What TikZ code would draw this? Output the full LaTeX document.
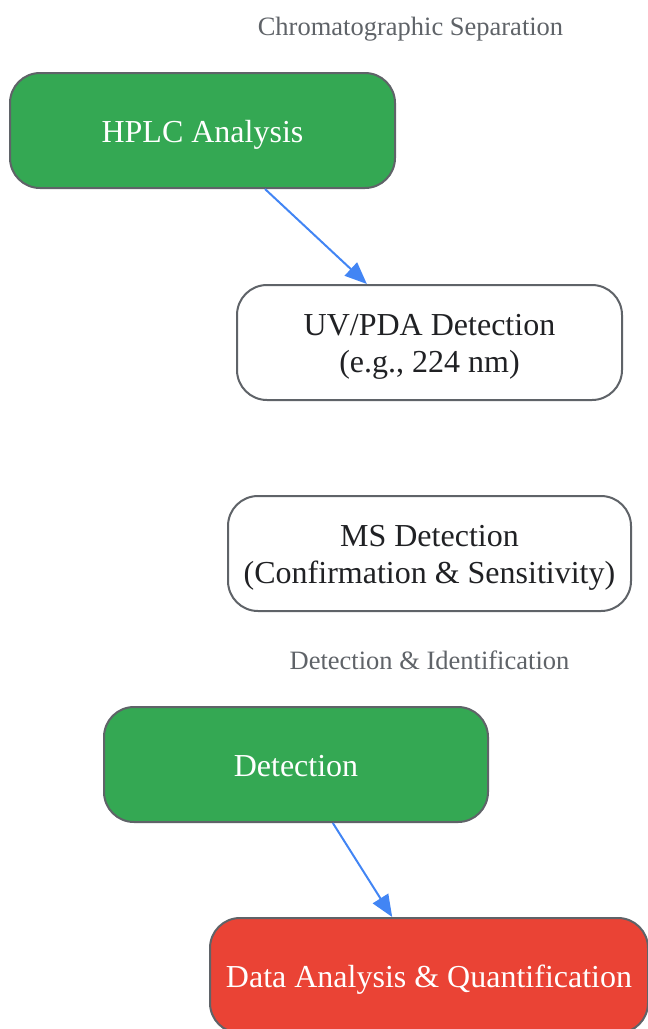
\documentclass[tikz,border=0pt]{standalone}
\usepackage{fontspec}
\setmainfont{Liberation Serif}
\usetikzlibrary{arrows.meta}
\definecolor{gstroke}{HTML}{5F6368}
\definecolor{ggreen}{HTML}{34A853}
\definecolor{gred}{HTML}{EA4335}
\definecolor{gblue}{HTML}{4285F4}
\definecolor{gtext}{HTML}{202124}
\newcommand{\topsp}[1]{\rule{0pt}{#1}}
\newcommand{\botsp}{\rule[-8pt]{0pt}{8pt}}
\tikzset{
  box/.style={draw=gstroke, line width=2pt, rounded corners=30pt,
    minimum height=115pt, inner sep=0pt, align=center,
    font=\fontsize{32}{37}\selectfont},
  greenbox/.style={box, fill=ggreen, text=white},
  whitebox/.style={box, fill=white, text=gtext},
  redbox/.style={box, fill=gred, text=white},
  grouplabel/.style={text=gstroke, font=\fontsize{26.5}{30}\selectfont, inner sep=0pt},
  flow/.style={draw=gblue, line width=2pt, -{Triangle[length=22pt,width=18pt]}}
}
\begin{document}
\begin{tikzpicture}[x=1pt,y=-1pt]
\useasboundingbox (0,0) rectangle (648,1029);
\node[grouplabel] (lab1) at (410.5,29) {Chromatographic Separation};
\node[greenbox, minimum width=385pt] (hplc) at (202.5,130.5) {\topsp{31.6pt}HPLC Analysis\botsp};
\node[whitebox, minimum width=385pt] (uv) at (429.5,342.5) {\topsp{31.6pt}UV/PDA Detection\\(e.g., 224 nm)\botsp};
\node[whitebox, minimum width=403pt] (ms) at (429.5,553.5) {\topsp{31.6pt}MS Detection\\(Confirmation \& Sensitivity)\botsp};
\node[grouplabel] (lab2) at (429.5,660) {Detection \& Identification};
\node[greenbox, minimum width=384pt] (det) at (296,764.5) {\topsp{31.6pt}Detection\botsp};
\node[redbox, minimum width=438pt] (data) at (429,975.5) {\topsp{31.6pt}Data Analysis \& Quantification\botsp};
\draw[flow] (hplc) -- (uv);
\draw[flow] (det) -- (data);
\end{tikzpicture}
\end{document}
